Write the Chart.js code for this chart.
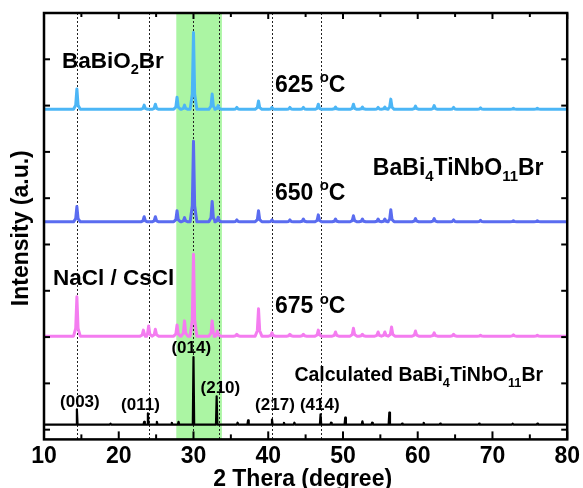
<!DOCTYPE html>
<html lang="en">
<head>
    <meta charset="UTF-8">
    <title>XRD patterns</title>
    <script src="https://cdn.jsdelivr.net/npm/chart.js"></script>
    <style>
        body { margin: 0; background: #fff; }
        canvas { display: block; }
    </style>
</head>
<body>
    <canvas id="xrd" width="583" height="488"></canvas>

    <script>
        // 2θ axis ticks
        const xTicks = [10, 20, 30, 40, 50, 60, 70, 80];
        const xMinor = [15, 25, 35, 45, 55, 65, 75];
        const yTicks = [0, 100, 200, 300, 400, 500, 600, 700, 800];

        // peak positions (2θ) and heights (a.u.)
        const pos625 = [14.4, 23.4, 24.9, 27.8, 28.8, 30.0, 32.5, 33.3, 35.8, 38.7, 40.5, 42.9, 44.7, 46.7, 49.0, 51.4, 52.6, 54.7, 55.6, 56.4, 59.7, 62.2, 64.8, 68.4, 72.8, 76.0];
        const int625 = [44, 9, 11, 26, 9, 166, 33, 8, 4, 18, 4, 4, 4, 11, 5, 11, 5, 4, 5, 22, 7, 8, 4, 3, 2, 2];

        const pos650 = [14.4, 23.4, 24.9, 27.8, 28.8, 30.0, 32.5, 33.3, 35.8, 38.7, 40.5, 42.9, 44.7, 46.7, 49.0, 51.4, 52.6, 54.7, 55.6, 56.4, 59.7, 62.2, 64.8, 68.4, 72.8, 76.0];
        const int650 = [33, 11, 11, 24, 9, 174, 44, 10, 4, 24, 4, 4, 6, 15, 6, 13, 6, 6, 6, 26, 7, 7, 4, 3, 2, 2];

        const pos675 = [14.4, 23.3, 24.0, 24.9, 27.8, 28.8, 30.0, 32.5, 33.2, 35.8, 38.7, 40.5, 42.9, 44.7, 46.7, 49.0, 51.4, 52.6, 54.7, 55.6, 56.5, 59.7, 62.2, 64.8, 68.4, 72.8, 76.0];
        const int675 = [85, 13, 22, 15, 24, 33, 177, 33, 11, 4, 59, 7, 4, 4, 13, 9, 17, 4, 9, 9, 20, 11, 7, 4, 2, 3, 2];

        const posCalc = [14.4, 18.9, 23.4, 23.9, 25.1, 27.1, 28.0, 30.0, 33.1, 35.9, 37.3, 40.5, 42.1, 43.5, 47.0, 48.4, 50.3, 52.6, 53.9, 56.2, 57.9, 60.8, 63.0, 68.2, 72.7, 76.0];
        const intCalc = [33, 2, 6, 24, 6, 4, 6, 146, 61, 4, 9, 11, 4, 4, 22, 4, 15, 7, 4, 26, 2, 4, 2, 2, 2, 2];

        // vertical stacking of the patterns
        const offsets = { calc: 11, t675: 202, t650: 449, t625: 692 };

        // reference lines and highlighted range
        const guideLines = [14.4, 24.0, 30.0, 33.4, 40.5, 47.1];
        const band = [27.7, 33.8];

        const FONT = "'Liberation Sans', Arial, sans-serif";
        Chart.defaults.font.family = FONT;

        // turn a peak list into a polyline; experimental peaks get a small skirt
        function pattern(pos, hts, off, hw, sticks) {
            const pts = [{ x: 10, y: off }];
            pos.forEach((p, i) => {
                const h = hts[i];
                if (sticks) {
                    pts.push({ x: p - hw, y: off }, { x: p, y: off + h }, { x: p + hw, y: off });
                } else {
                    pts.push({ x: p - hw, y: off }, { x: p - hw * 0.35, y: off + h * 0.2 },
                             { x: p, y: off + h },
                             { x: p + hw * 0.35, y: off + h * 0.2 }, { x: p + hw, y: off });
                }
            });
            pts.push({ x: 80, y: off });
            return pts;
        }

        // text with _{sub} and ^{sup} parts
        function richText(ctx, str, x, y, size, align) {
            const parts = [];
            str.replace(/([_^])\{([^}]*)\}|([^_^]+)/g, (m, mark, inner, plain) => {
                if (plain) parts.push({ t: plain, k: 0 });
                else parts.push({ t: inner, k: mark === '_' ? -1 : 1 });
            });
            let w = 0;
            parts.forEach(p => {
                const s = p.k ? size * 0.65 : size;
                ctx.font = `bold ${s}px ${FONT}`;
                p.w = ctx.measureText(p.t).width;
                p.s = s;
                w += p.w;
            });
            let cx = align === 'center' ? x - w / 2 : x;
            ctx.textAlign = 'left';
            ctx.textBaseline = 'alphabetic';
            parts.forEach(p => {
                ctx.font = `bold ${p.s}px ${FONT}`;
                const dy = p.k === -1 ? size * 0.28 : (p.k === 1 ? -size * 0.42 : 0);
                ctx.fillText(p.t, cx, y + dy);
                cx += p.w;
            });
        }

        const labels = [
            { t: 'BaBiO_{2}Br', x: 12.4, y: 782, size: 22.5 },
            { t: '625 ^{o}C', x: 40.9, y: 730, size: 23 },
            { t: 'BaBi_{4}TiNbO_{11}Br', x: 54.0, y: 551, size: 23 },
            { t: '650 ^{o}C', x: 40.9, y: 496, size: 23 },
            { t: 'NaCl / CsCl', x: 11.2, y: 313, size: 22.5 },
            { t: '675 ^{o}C', x: 40.9, y: 251, size: 23 },
            { t: 'Calculated BaBi_{4}TiNbO_{11}Br', x: 43.5, y: 105, size: 19.5 },
            { t: '(003)', x: 14.8, y: 48, size: 17, align: 'center' },
            { t: '(011)', x: 22.9, y: 42, size: 17, align: 'center' },
            { t: '(014)', x: 29.7, y: 166, size: 17, align: 'center' },
            { t: '(210)', x: 33.6, y: 79, size: 17, align: 'center' },
            { t: '(217)', x: 40.9, y: 42, size: 17, align: 'center' },
            { t: '(414)', x: 46.9, y: 42, size: 17, align: 'center' }
        ];

        const decor = {
            id: 'decor',
            beforeDatasetsDraw(chart) {
                const { ctx, chartArea: a, scales: { x } } = chart;
                ctx.save();
                ctx.fillStyle = '#abf5a3';
                const b0 = x.getPixelForValue(band[0]), b1 = x.getPixelForValue(band[1]);
                ctx.fillRect(b0, a.top, b1 - b0, a.bottom - a.top);
                ctx.strokeStyle = '#222';
                ctx.lineWidth = 1;
                ctx.setLineDash([2, 2]);
                guideLines.forEach(v => {
                    const px = Math.round(x.getPixelForValue(v)) + 0.5;
                    ctx.beginPath();
                    ctx.moveTo(px, a.top);
                    ctx.lineTo(px, a.bottom);
                    ctx.stroke();
                });
                ctx.restore();
            },
            afterDatasetsDraw(chart) {
                const { ctx, chartArea: a, scales: { x, y } } = chart;
                ctx.save();
                ctx.strokeStyle = '#000';
                ctx.lineWidth = 2.5;
                ctx.strokeRect(a.left, a.top, a.right - a.left, a.bottom - a.top);

                ctx.lineWidth = 2;
                const tick = (x0, y0, x1, y1) => {
                    ctx.beginPath(); ctx.moveTo(x0, y0); ctx.lineTo(x1, y1); ctx.stroke();
                };
                xTicks.forEach(v => {
                    const px = x.getPixelForValue(v);
                    tick(px, a.bottom, px, a.bottom - 8);
                    tick(px, a.top, px, a.top + 6);
                });
                xMinor.forEach(v => {
                    const px = x.getPixelForValue(v);
                    tick(px, a.bottom, px, a.bottom - 5);
                    tick(px, a.top, px, a.top + 4);
                });
                yTicks.forEach(v => {
                    const py = y.getPixelForValue(v);
                    tick(a.left, py, a.left + 6, py);
                    tick(a.right, py, a.right - 6, py);
                });

                ctx.fillStyle = '#000';
                labels.forEach(l => {
                    richText(ctx, l.t, x.getPixelForValue(l.x), y.getPixelForValue(l.y), l.size, l.align);
                });

                // axis titles
                ctx.font = `bold 23px ${FONT}`;
                ctx.textAlign = 'center';
                ctx.textBaseline = 'alphabetic';
                ctx.fillText('2 Thera (degree)', (a.left + a.right) / 2 - 3, 486);
                ctx.translate(28, (a.top + a.bottom) / 2 + 2);
                ctx.rotate(-Math.PI / 2);
                ctx.fillText('Intensity (a.u.)', 0, 0);
                ctx.restore();
            }
        };

        const line = (data, color, width) => ({
            data, borderColor: color, borderWidth: width, borderJoinStyle: 'round',
            pointRadius: 0, fill: false, tension: 0
        });

        new Chart(document.getElementById('xrd'), {
            type: 'line',
            data: {
                datasets: [
                    line(pattern(posCalc, intCalc, offsets.calc, 0.09, true), '#000000', 2.2),
                    line(pattern(pos675, int675, offsets.t675, 0.45), '#f47cf0', 3),
                    line(pattern(pos650, int650, offsets.t650, 0.45), '#5a6cf0', 3),
                    line(pattern(pos625, int625, offsets.t625, 0.45), '#4cb6f6', 3)
                ]
            },
            options: {
                responsive: false,
                animation: false,
                layout: { padding: { left: 44, right: 15, top: 13, bottom: 15 } },
                plugins: { legend: { display: false }, tooltip: { enabled: false } },
                scales: {
                    x: {
                        type: 'linear', min: 10, max: 80,
                        afterBuildTicks: s => { s.ticks = xTicks.map(v => ({ value: v })); },
                        ticks: { color: '#000', padding: 3, font: { size: 23, weight: 'bold' } },
                        grid: { display: false, drawTicks: false },
                        border: { display: false }
                    },
                    y: { display: false, min: -21, max: 900 }
                }
            },
            plugins: [decor]
        });
    </script>
</body>
</html>
